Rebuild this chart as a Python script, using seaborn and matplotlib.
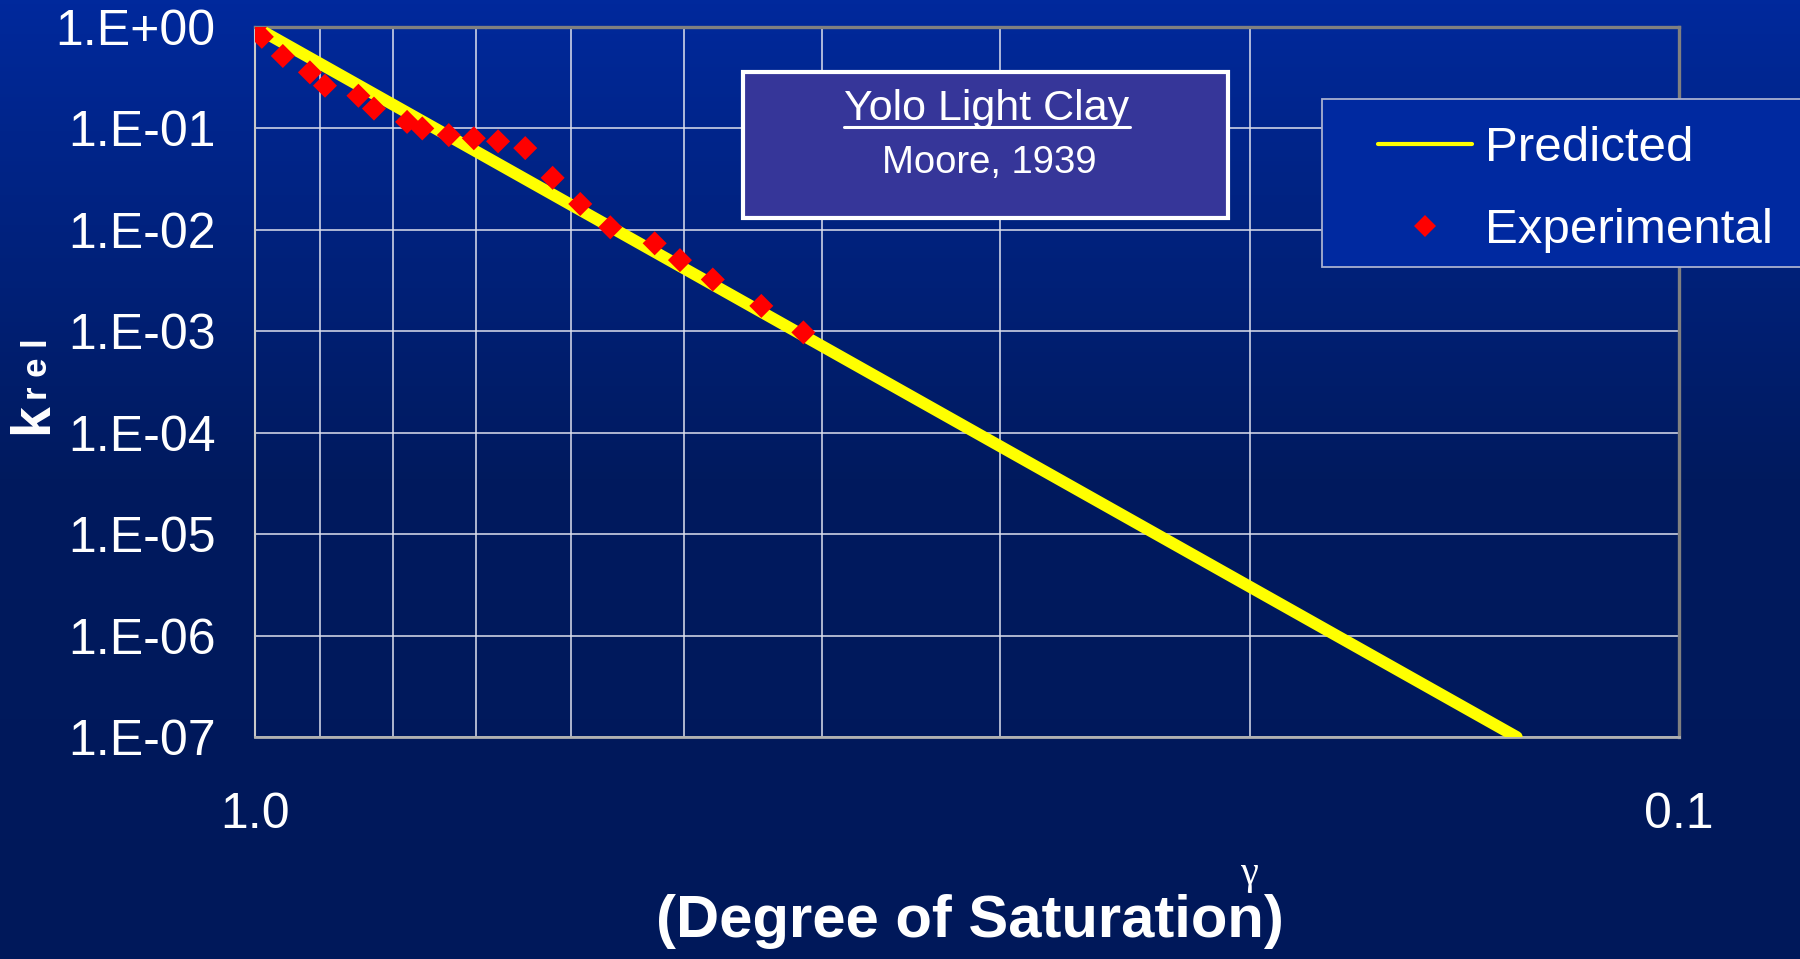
import numpy as np
import matplotlib
matplotlib.use("Agg")
import matplotlib.pyplot as plt
import seaborn as sns
from matplotlib.patches import Rectangle
from matplotlib.lines import Line2D
from matplotlib.colors import LinearSegmentedColormap
from matplotlib.ticker import FixedLocator, NullLocator, LogLocator, FuncFormatter

# ---------------- data ----------------
sat_pred = [1.0, 0.130]          # (Degree of Saturation)^gamma, predicted line ends
k_pred = [1.0, 1e-7]

sat_exp = [1.0, 0.989, 0.956, 0.915, 0.893, 0.846, 0.825, 0.782, 0.763, 0.731,
           0.702, 0.675, 0.646, 0.618, 0.591, 0.563, 0.524, 0.503, 0.477, 0.441, 0.412]
k_exp = [1.0, 0.80, 0.518, 0.357, 0.264, 0.210, 0.157, 0.116, 0.100, 0.086,
         0.080, 0.0746, 0.064, 0.0326, 0.0180, 0.0106, 0.00737, 0.00503, 0.00324,
         0.00178, 0.000975]

x_major = [1.0, 0.1]
x_minor = [0.9, 0.8, 0.7, 0.6, 0.5, 0.4, 0.3, 0.2]

series_labels = ["Predicted", "Experimental"]
box_title = "Yolo Light Clay"
box_sub = "Moore, 1939"

# ---------------- figure ----------------
sns.set_theme(style="white")
plt.rcParams['font.family'] = ['Liberation Sans', 'DejaVu Sans']

W, H = 1800, 959
fig = plt.figure(figsize=(18, 9.59), dpi=100)

# gradient background
bg = fig.add_axes([0, 0, 1, 1], zorder=-10)
cmap = LinearSegmentedColormap.from_list('bg', ['#00299c', '#001a5e', '#00185a'])
bg.imshow(np.linspace(0, 1, 256)[:, None], aspect='auto', cmap=cmap, extent=[0, 1, 0, 1])
bg.axis('off')

ax = fig.add_axes([255 / W, 1 - 737 / H, 1424 / W, 710 / H])
ax.patch.set_visible(False)
ax.set_xscale('log')
ax.set_yscale('log')

sns.lineplot(x=sat_pred, y=k_pred, ax=ax, color='#ffff00', lw=8.5,
             solid_capstyle='round', sort=False, estimator=None, zorder=3)
sns.scatterplot(x=sat_exp, y=k_exp, ax=ax, marker='D', s=150, color='#ff0000',
                edgecolor='none', linewidth=0, zorder=4)

ax.set_xlim(1.0, 0.1)
ax.set_ylim(1e-7, 1.0)

ax.xaxis.set_major_locator(FixedLocator(x_major))
ax.xaxis.set_major_formatter(FuncFormatter(lambda v, p: f"{v:.1f}"))
ax.xaxis.set_minor_locator(FixedLocator(x_minor))
ax.xaxis.set_minor_formatter(FuncFormatter(lambda v, p: ""))
ax.yaxis.set_major_locator(LogLocator(base=10, numticks=20))
ax.yaxis.set_major_formatter(FuncFormatter(lambda v, p: f"1.E{int(round(np.log10(v))):+03d}"))
ax.yaxis.set_minor_locator(NullLocator())

ax.set_axisbelow(True)
ax.grid(True, which='both', axis='x', color='#dde0ee', lw=1.1)
ax.grid(True, which='major', axis='y', color='#dde0ee', lw=1.1)

ax.tick_params(axis='y', which='major', direction='inout', length=21, width=1.5,
               color='#e0e0e0', pad=18, labelsize=36, labelcolor='white')
ax.tick_params(axis='x', which='major', direction='out', length=11.5, width=1.5,
               color='#d0d0d0', pad=28, labelsize=36, labelcolor='white')
ax.tick_params(axis='x', which='minor', length=0)

for side, col, lw in [('top', '#808080', 2.4), ('right', '#808080', 2.4),
                      ('bottom', '#b0b0b0', 2.0), ('left', '#c8c8c8', 1.5)]:
    ax.spines[side].set_visible(True)
    ax.spines[side].set_color(col)
    ax.spines[side].set_linewidth(lw)

# axis labels
ax.set_xlabel("(Degree of Saturation)", fontsize=43,
              fontweight='bold', color='white', va='baseline')
ax.xaxis.set_label_coords((970 - 255) / 1424, (737 - 937) / 710)

ax.set_ylabel("k", fontsize=40, fontweight='bold', color='white', rotation=90,
              rotation_mode='anchor', ha='left', va='baseline')
ax.yaxis.set_label_coords((47 - 255) / 1424, (737 - 434) / 710)
ax.text((47 - 255) / 1424, (737 - 400) / 710, "r e l", transform=ax.transAxes,
        fontsize=25, fontweight='bold', color='white', rotation=90,
        rotation_mode='anchor', ha='left', va='baseline', clip_on=False)

# annotation box
fig.add_artist(Rectangle((743 / W, 1 - 218 / H), 485 / W, 146 / H, transform=fig.transFigure,
                         facecolor='#363699', edgecolor='white', lw=3, zorder=1))
t1 = fig.text(987 / W, 1 - 120 / H, box_title, fontsize=31, color='white',
              ha='center', va='baseline', zorder=3)
fig.text(989 / W, 1 - 173 / H, box_sub, fontsize=27.5, color='white',
         ha='center', va='baseline', zorder=3)

# legend box
fig.add_artist(Rectangle((1322 / W, 1 - 267 / H), 500 / W, 168 / H, transform=fig.transFigure,
                         facecolor='#0029a0', edgecolor='#a8b0d0', lw=1.3, zorder=1))
handles = [Line2D([], [], color='#ffff00', lw=3),
           Line2D([], [], marker='D', ls='none', color='#ff0000', markersize=11.5,
                  markeredgewidth=0)]
fig.legend(handles, series_labels, loc='upper left', bbox_to_anchor=(1378 / W, 1 - 126 / H),
           frameon=False, fontsize=35.5, handlelength=1.9, handletextpad=0.27,
           labelspacing=0.75, borderpad=0, borderaxespad=0, labelcolor='white')

# underline of box title, and gamma placed just above the x label's last letters
fig.canvas.draw()
bb = t1.get_window_extent()
fig.add_artist(Line2D([bb.x0 / W, bb.x1 / W], [1 - 127 / H, 1 - 127 / H],
                      transform=fig.transFigure, color='white', lw=2.2, zorder=3))
xb = ax.xaxis.label.get_window_extent()
fig.text((xb.x1 - 34) / W, (xb.y1 + 1) / H, "γ", family=['Liberation Serif', 'DejaVu Serif'],
         fontsize=29, color='white', ha='center', va='bottom')

fig.savefig("out.png", dpi=100)
